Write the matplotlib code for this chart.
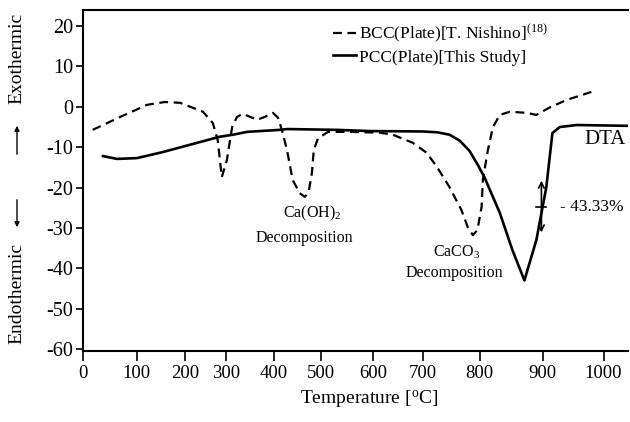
import numpy as np
import matplotlib.pyplot as plt

plt.rcParams['font.family'] = ['Liberation Serif', 'DejaVu Serif']
plt.rcParams['mathtext.fontset'] = 'custom'
plt.rcParams['mathtext.rm'] = 'Liberation Serif'
plt.rcParams['mathtext.it'] = 'Liberation Serif:italic'
plt.rcParams['axes.unicode_minus'] = False

# DTA curves (temperature in C, signal)
pcc_temp = [37, 63, 100, 154, 212, 285, 315, 344, 413, 428, 531, 594, 700, 725, 747,
            765, 782, 796, 808, 832, 852, 871, 890, 906, 916, 928, 956, 1038]
pcc_dta = [-12.2, -12.9, -12.7, -11.2, -9.4, -7.4, -6.9, -6.2, -5.7, -5.5, -5.7, -6.0,
           -6.1, -6.3, -6.9, -8.4, -10.9, -14.2, -17.6, -26.3, -35.5, -43.0, -33.0,
           -19.9, -6.5, -5.0, -4.5, -4.7]

bcc_temp = [18, 69, 121, 158, 190, 244, 268, 280, 290, 302, 313, 323, 335, 365, 381,
            398, 409, 417, 428, 440, 455, 466, 474, 481, 485, 494, 514, 556, 614, 640,
            680, 707, 725, 747, 768, 779, 788, 796, 803, 805, 813, 821, 832, 848, 875,
            890, 911, 939, 980]
bcc_dta = [-5.7, -2.5, 0.5, 1.2, 1.0, -1.2, -4.0, -8.2, -17.4, -13.2, -5.0, -2.5, -1.7,
           -3.2, -2.5, -1.5, -2.7, -5.7, -10.7, -18.1, -21.4, -22.3, -21.1, -16.4, -10.7,
           -7.8, -6.2, -6.2, -6.4, -6.9, -8.9, -11.4, -14.9, -19.9, -25.6, -29.8, -31.8,
           -30.5, -24.8, -18.1, -10.7, -5.0, -2.0, -1.2, -1.5, -2.0, -0.2, 1.7, 3.7]

x_ticks = [0, 100, 200, 300, 400, 500, 600, 700, 800, 900, 1000]
y_ticks = [-60, -50, -40, -30, -20, -10, 0, 10, 20]

# the scanned temperature axis is unevenly spaced; calibrate a piecewise scale
cal_temp = np.array([-100, 0, 100, 200, 300, 400, 500, 600, 700, 800, 900, 1000, 1100])
cal_px = np.array([29, 83, 137, 185, 226, 274, 321, 373, 423, 480, 543, 604, 665], float)

def fwd(t):
    return np.interp(t, cal_temp, cal_px)

def inv(p):
    return np.interp(p, cal_px, cal_temp)

fig = plt.figure(figsize=(6.3, 4.22), dpi=100)
ax = fig.add_axes([83/630, 1 - 351/422, 545/630, 341/422])
ax.set_xscale('function', functions=(fwd, inv))

ax.plot(bcc_temp, bcc_dta, color='black', lw=1.6, linestyle=(0, (4, 2.5)),
        dash_joinstyle='round', label=r'BCC(Plate)[T. Nishino]$^{\rm (18)}$')
ax.plot(pcc_temp, pcc_dta, color='black', lw=1.9, solid_joinstyle='round',
        label='PCC(Plate)[This Study]')

ax.set_xlim(0, 1040)
ax.set_ylim(-60.5, 24)
ax.set_xticks(x_ticks)
ax.set_yticks(y_ticks)
ax.tick_params(axis='x', direction='out', length=7, width=1.2, pad=3, labelsize=13.5)
ax.tick_params(axis='y', direction='out', length=5, width=1.2, pad=2, labelsize=14.5)
for s in ['left', 'bottom', 'top']:
    ax.spines[s].set_linewidth(1.5)
ax.spines['right'].set_visible(False)

ax.set_xlabel(r'Temperature [$^{\rm o}$C]', fontsize=14)
ax.xaxis.set_label_coords(0.525, -0.11)

# annotations
ax.text(481, -26.3, r'Ca(OH)$_2$', fontsize=11.5, ha='center', va='center')
ax.text(466, -32.5, 'Decomposition', fontsize=11.5, ha='center', va='center')
ax.text(759, -36, r'CaCO$_3$', fontsize=11.5, ha='center', va='center')
ax.text(756, -41.2, 'Decomposition', fontsize=11.5, ha='center', va='center')
ax.text(969, -8.2, 'DTA', fontsize=15, ha='left', va='center')

ax.annotate('', xy=(898, -17.6), xytext=(898, -31.8),
            arrowprops=dict(arrowstyle='<->', lw=1.2, color='black'))
ax.plot([890, 906], [-24.8, -24.8], color='black', lw=1.2)
ax.text(928, -24.8, '- 43.33%', fontsize=12.5, ha='left', va='center')

ax.legend(loc='upper left', bbox_to_anchor=(0.459, 0.962), frameon=False,
          fontsize=12.5, handlelength=1.3, handletextpad=0.2, labelspacing=0.25,
          borderpad=0, borderaxespad=0)

# y label: Endothermic <-- --> Exothermic
fig.text(17/630, 1 - 58/422, 'Exothermic', rotation=90, fontsize=14,
         ha='center', va='center')
fig.text(17/630, 1 - 293/422, 'Endothermic', rotation=90, fontsize=14,
         ha='center', va='center')
ax.annotate('', xy=(17, 422 - 123), xytext=(17, 422 - 157), xycoords='figure pixels',
            textcoords='figure pixels',
            arrowprops=dict(arrowstyle='-|>', lw=1, color='black', mutation_scale=7))
ax.annotate('', xy=(17, 422 - 230), xytext=(17, 422 - 197), xycoords='figure pixels',
            textcoords='figure pixels',
            arrowprops=dict(arrowstyle='-|>', lw=1, color='black', mutation_scale=7))

fig.savefig('out.png', dpi=100)
